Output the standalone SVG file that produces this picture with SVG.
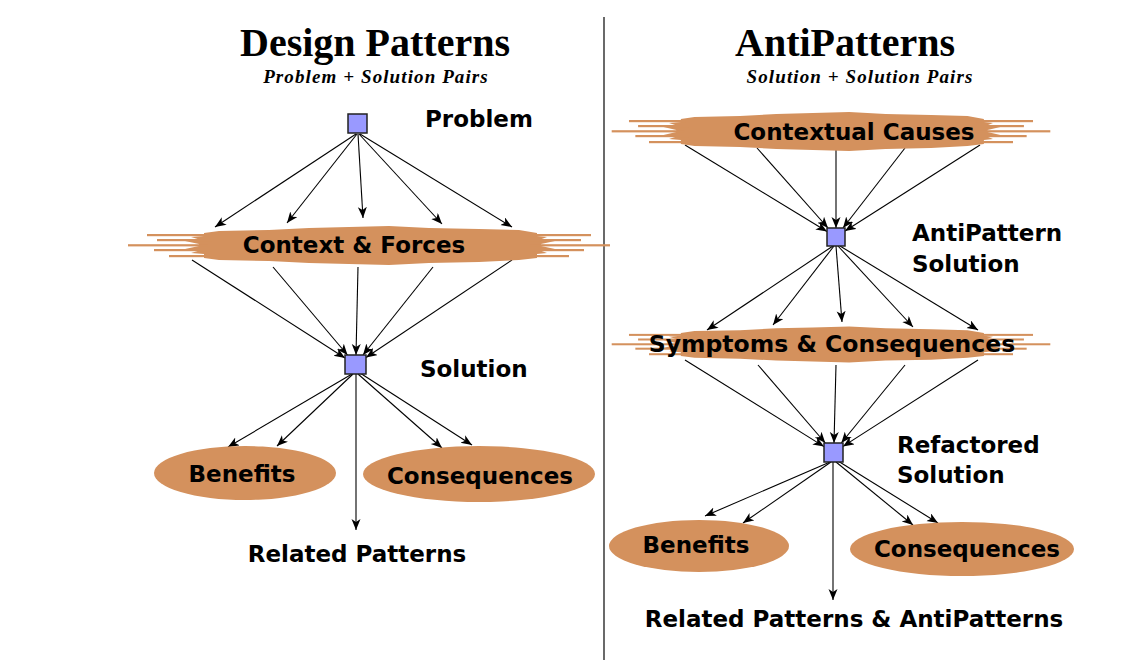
<svg xmlns="http://www.w3.org/2000/svg" xmlns:xlink="http://www.w3.org/1999/xlink" width="1133" height="672" viewBox="0 0 1133 672">
<style>
.title{font-family:"Liberation Serif","Times New Roman",serif;font-weight:bold;font-size:40px;fill:#000;text-anchor:middle}
.sub{font-family:"Liberation Serif","Times New Roman",serif;font-weight:bold;font-style:italic;font-size:19px;letter-spacing:1.1px;fill:#000;text-anchor:middle}
.lbl{font-family:"DejaVu Sans","Verdana",sans-serif;font-weight:bold;font-size:23px;fill:#000}
.mid{text-anchor:middle}
.sq{fill:#9999ff;stroke:#222;stroke-width:1.5}
.ell{fill:#d4915d}
.conn line{stroke:#000;stroke-width:1.1;fill:none}
.arr{marker-end:url(#ah)}
</style>
<defs>
<marker id="ah" markerUnits="userSpaceOnUse" markerWidth="12" markerHeight="10" refX="11" refY="4.5" orient="auto">
<path d="M0,0 L11,4.5 L0,9 L3,4.5 Z" fill="#000"/>
</marker>
<g id="brush" fill="#d4915d">
<path d="M-165,-12 L-150,-14 L-100,-15 L-60,-17 L-20,-18 L20,-19 L60,-17 L110,-16 L150,-15 L168,-12 L168,-9 L178,-8 L170,-5 L186,-4 L172,-1 L172,1 L186,4 L170,5 L178,8 L168,9 L168,13 L150,15 L110,17 L60,18 L20,20 L-20,19 L-60,18 L-100,16 L-150,15 L-165,13 L-165,9 L-178,8 L-168,5 L-184,4 L-170,1 L-170,-1 L-184,-4 L-168,-5 L-178,-8 L-165,-9 Z"/>
<rect x="-222" y="-11" width="62" height="2.2"/>
<rect x="-212" y="-6" width="55" height="2.2"/>
<rect x="-241" y="-0.8" width="80" height="2.2"/>
<rect x="-215" y="4" width="58" height="2.2"/>
<rect x="-200" y="10" width="45" height="2.2"/>
<rect x="160" y="-11" width="62" height="2.2"/>
<rect x="157" y="-6" width="55" height="2.2"/>
<rect x="161" y="-0.8" width="80" height="2.2"/>
<rect x="157" y="4" width="58" height="2.2"/>
<rect x="155" y="10" width="45" height="2.2"/>
</g>
</defs>
<rect x="0" y="0" width="1133" height="672" fill="#fff"/>
<line x1="604" y1="17" x2="604" y2="660" stroke="#444" stroke-width="1.6"/>

<g id="title-left">
<text class="title" x="375" y="56">Design Patterns</text>
<text class="sub" x="376" y="83">Problem + Solution Pairs</text>
</g>
<g id="title-right">
<text class="title" x="845" y="56">AntiPatterns</text>
<text class="sub" x="860" y="83">Solution + Solution Pairs</text>
</g>

<g class="conn" id="connectors">
<line class="arr" x1="356" y1="134" x2="215" y2="227"/>
<line class="arr" x1="357" y1="134" x2="287" y2="223"/>
<line class="arr" x1="358" y1="134" x2="363" y2="218"/>
<line class="arr" x1="359" y1="134" x2="442" y2="224"/>
<line class="arr" x1="360" y1="134" x2="512" y2="227"/>
<line class="arr" x1="192" y1="260" x2="345" y2="358"/>
<line class="arr" x1="273" y1="267" x2="347.5" y2="355"/>
<line class="arr" x1="358" y1="267" x2="356" y2="355"/>
<line class="arr" x1="433" y1="267" x2="363" y2="355"/>
<line class="arr" x1="512" y1="260" x2="366" y2="357.5"/>
<line class="arr" x1="352" y1="374" x2="228" y2="447"/>
<line class="arr" x1="353" y1="374" x2="277" y2="446"/>
<line class="arr" x1="358" y1="374" x2="442" y2="448"/>
<line class="arr" x1="360" y1="373" x2="472" y2="445"/>
<line class="arr" x1="356" y1="374" x2="356" y2="530"/>

<line class="arr" x1="685" y1="145" x2="827" y2="231.5"/>
<line class="arr" x1="757" y1="148" x2="828" y2="228"/>
<line class="arr" x1="836" y1="150" x2="836" y2="228"/>
<line class="arr" x1="905" y1="148" x2="843" y2="228"/>
<line class="arr" x1="980" y1="145" x2="845" y2="231"/>
<line class="arr" x1="833" y1="246" x2="707" y2="330"/>
<line class="arr" x1="834" y1="246" x2="773" y2="325"/>
<line class="arr" x1="836" y1="246" x2="842" y2="322"/>
<line class="arr" x1="838" y1="246" x2="913" y2="327"/>
<line class="arr" x1="840" y1="246" x2="978" y2="330"/>
<line class="arr" x1="685" y1="360" x2="824" y2="446.6"/>
<line class="arr" x1="758" y1="365" x2="825.3" y2="443"/>
<line class="arr" x1="836" y1="365" x2="834" y2="443"/>
<line class="arr" x1="905" y1="365" x2="841.3" y2="443"/>
<line class="arr" x1="978" y1="360" x2="843" y2="446.4"/>
<line class="arr" x1="830" y1="462" x2="705" y2="516"/>
<line class="arr" x1="831" y1="462" x2="743" y2="523"/>
<line class="arr" x1="836" y1="462" x2="913" y2="525"/>
<line class="arr" x1="838" y1="461" x2="938" y2="523"/>
<line class="arr" x1="833" y1="462" x2="833" y2="600"/>
</g>

<g id="problem">
<rect class="sq" x="348" y="114" width="19" height="19"/>
<text class="lbl" x="425" y="127">Problem</text>
</g>
<g id="context-forces">
<use xlink:href="#brush" transform="translate(369,245)"/>
<text class="lbl mid" x="354" y="253">Context &amp; Forces</text>
</g>
<g id="solution">
<rect class="sq" x="345" y="355" width="21" height="19"/>
<text class="lbl" x="420" y="377">Solution</text>
</g>
<g id="benefits-left">
<ellipse class="ell" cx="245" cy="473" rx="91" ry="27"/>
<text class="lbl mid" x="242" y="482">Benefits</text>
</g>
<g id="consequences-left">
<ellipse class="ell" cx="479" cy="474" rx="116" ry="28"/>
<text class="lbl mid" x="480" y="484">Consequences</text>
</g>
<g id="related-patterns">
<text class="lbl mid" x="357" y="562">Related Patterns</text>
</g>

<g id="contextual-causes">
<use xlink:href="#brush" transform="translate(831,131) scale(0.91,1)"/>
<text class="lbl mid" x="854" y="140">Contextual Causes</text>
</g>
<g id="antipattern-solution">
<rect class="sq" x="827" y="228" width="18" height="18"/>
<text class="lbl" x="912" y="241">AntiPattern</text>
<text class="lbl" x="912" y="272">Solution</text>
</g>
<g id="symptoms-consequences">
<use xlink:href="#brush" transform="translate(831,344) scale(0.91,0.92)"/>
<text class="lbl mid" x="832" y="352" style="font-size:23.5px">Symptoms &amp; Consequences</text>
</g>
<g id="refactored-solution">
<rect class="sq" x="824" y="443" width="19" height="19"/>
<text class="lbl" x="897" y="453">Refactored</text>
<text class="lbl" x="897" y="483">Solution</text>
</g>
<g id="benefits-right">
<ellipse class="ell" cx="699" cy="546" rx="90" ry="26"/>
<text class="lbl mid" x="696" y="553">Benefits</text>
</g>
<g id="consequences-right">
<ellipse class="ell" cx="962" cy="549" rx="112" ry="27"/>
<text class="lbl mid" x="967" y="557">Consequences</text>
</g>
<g id="related-antipatterns">
<text class="lbl mid" x="854" y="627">Related Patterns &amp; AntiPatterns</text>
</g>
</svg>
